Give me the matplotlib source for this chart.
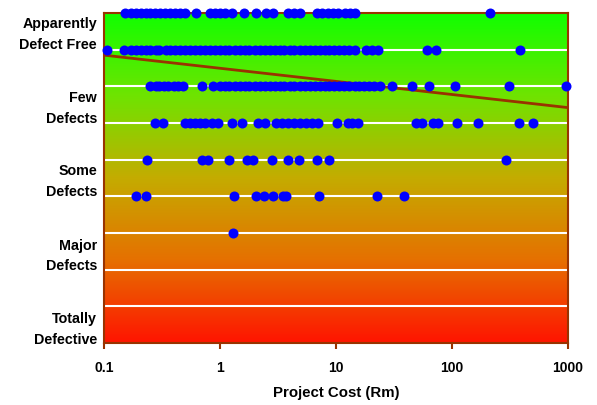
import numpy as np
import matplotlib
matplotlib.use("Agg")
import matplotlib.pyplot as plt
from matplotlib.colors import LinearSegmentedColormap

plt.rcParams['font.family'] = ['Liberation Sans', 'DejaVu Sans']

# project cost (Rm) per quality level (9 = top row ... 3 = lowest row)
cost_9 = [0.152, 0.171, 0.189, 0.208, 0.23, 0.249, 0.275, 0.304, 0.336, 0.371, 0.409,
          0.452, 0.499, 0.621, 0.82, 0.905, 1.0, 1.1, 1.27, 1.61, 2.04, 2.49, 2.86,
          3.86, 4.34, 4.89, 6.86, 7.57, 8.53, 9.42, 10.4, 12.0, 13.2, 14.6, 213]
cost_8 = [0.106, 0.15, 0.17, 0.19, 0.21, 0.23, 0.25, 0.28, 0.30, 0.34, 0.37, 0.41, 0.45,
          0.50, 0.55, 0.61, 0.67, 0.74, 0.82, 0.9, 1.0, 1.1, 1.2, 1.35, 1.5, 1.65, 1.8,
          2.0, 2.2, 2.45, 2.7, 3.0, 3.3, 3.6, 4.0, 4.4, 4.9, 5.4, 6.0, 6.6, 7.3, 8.0,
          8.8, 9.7, 10.7, 11.8, 13, 14.5, 18.1, 20.4, 23.0, 60.8, 72.8, 385]
cost_7 = [0.249, 0.28, 0.30, 0.33, 0.36, 0.40, 0.44, 0.48, 0.70, 0.87, 1.0, 1.1, 1.2,
          1.35, 1.5, 1.65, 1.8, 2.0, 2.2, 2.45, 2.7, 3.0, 3.3, 3.6, 4.0, 4.4, 4.9, 5.4,
          6.0, 6.6, 7.3, 8.0, 8.8, 9.7, 10.7, 11.8, 13, 14.5, 16, 17.5, 19.5, 21.5, 24,
          30.4, 45.2, 63.4, 106, 310, 970]
cost_6 = [0.275, 0.322, 0.50, 0.55, 0.61, 0.67, 0.74, 0.85, 0.96, 1.27, 1.55, 2.13,
          2.44, 3.04, 3.42, 3.86, 4.34, 4.89, 5.51, 6.21, 7.0, 10.2, 12.7, 13.7, 15.5,
          49, 55, 68.5, 75.7, 110, 167, 378, 499]
cost_5 = [0.235, 0.70, 0.79, 1.20, 1.71, 1.92, 2.81, 3.86, 4.80, 6.86, 8.71, 292]
cost_4 = [0.189, 0.23, 1.32, 2.04, 2.39, 2.86, 3.49, 3.71, 7.13, 22.6, 38.5]
cost_3 = [1.29]

rows = [(9, cost_9), (8, cost_8), (7, cost_7), (6, cost_6),
        (5, cost_5), (4, cost_4), (3, cost_3)]

trend_x = [0.1, 1000]
trend_y = [7.85, 6.42]

level_labels = ['Apparently\nDefect Free', 'Few\nDefects', 'Some\nDefects',
                'Major\nDefects', 'Totally\nDefective']
label_pos = [8.55, 6.53, 4.54, 2.5, 0.5]
x_ticks = [0.1, 1, 10, 100, 1000]
x_labels = ['0.1', '1', '10', '100', '1000']

brown = '#993300'

fig = plt.figure(figsize=(5.97, 4.05), dpi=100)
ax = fig.add_axes([0.174, 0.153, 0.777, 0.815])

cmap = LinearSegmentedColormap.from_list(
    'q', [(0.0, '#10ff00'), (0.25, '#6ee400'), (0.5, '#c4ac00'),
          (0.75, '#e67000'), (1.0, '#ff1400')])
grad = np.linspace(0, 1, 256).reshape(-1, 1)
ax.imshow(grad, cmap=cmap, aspect='auto', extent=[0, 1, 0, 1],
          transform=ax.transAxes, zorder=0)

ax.set_xscale('log')
ax.set_xlim(0.1, 1000)
ax.set_ylim(0, 9)

for lvl in range(1, 9):
    ax.axhline(lvl, color='white', lw=1.5, zorder=1)

ax.plot(trend_x, trend_y, color=brown, lw=2, zorder=2)

for lvl, xs in rows:
    ax.plot(xs, [lvl] * len(xs), 'o', color='#0000ff', ms=7.2, mew=0,
            zorder=3, clip_on=False)

ax.set_yticks(label_pos)
ax.set_yticklabels(level_labels, fontsize=10.3, fontweight='bold', linespacing=1.6)
ax.tick_params(axis='y', length=0, pad=5)

ax.set_xticks(x_ticks)
ax.set_xticklabels(x_labels, fontsize=10, fontweight='bold')
ax.xaxis.set_minor_locator(matplotlib.ticker.NullLocator())
ax.tick_params(axis='x', direction='out', length=4, color=brown, width=1.5, pad=9)
ax.set_xlabel('Project Cost (Rm)', fontsize=10.8, fontweight='bold', labelpad=8)

for s in ax.spines.values():
    s.set_color(brown)
    s.set_linewidth(1.5)

fig.savefig('out.png', dpi=100)
